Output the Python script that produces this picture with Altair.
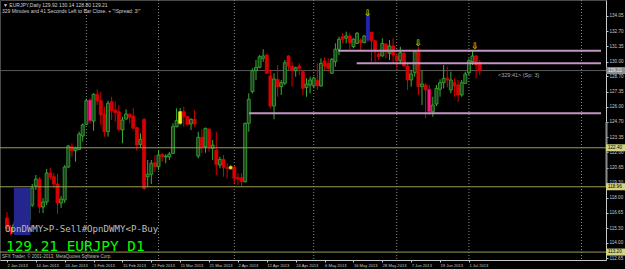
import altair as alt
import pandas as pd

# ---------------- data ----------------
opens = [116.20, 115.32, 115.00, 115.60, 115.00, 115.50, 116.00, 117.35, 119.03, 119.64,
         117.17, 117.61, 120.17, 119.85, 119.20, 117.53, 117.79, 120.70, 122.49, 122.14,
         122.26, 123.44, 124.47, 126.61, 124.76, 127.12, 126.55, 125.38, 123.82, 126.46,
         125.73, 125.58, 123.97, 124.93, 125.35, 125.20, 124.17, 122.70, 124.91, 119.85,
         120.06, 121.08, 120.73, 121.82, 121.59, 121.59, 121.91, 124.26, 124.56, 125.58,
         125.14, 124.50, 124.91, 121.67, 123.32, 122.49, 124.05, 122.35, 122.20, 120.88,
         121.38, 120.64, 120.73, 120.68, 119.76, 119.76, 119.41, 124.56, 127.35, 129.20,
         129.50, 130.29, 130.58, 128.73, 126.08, 128.44, 127.79, 128.09, 130.50, 129.61,
         129.20, 129.61, 129.11, 127.73, 127.94, 127.85, 128.32, 127.85, 130.05, 129.85,
         128.97, 129.99, 131.09, 132.20, 132.06, 132.26, 131.32, 131.61, 131.91, 131.67,
         131.91, 132.59, 131.84, 130.67, 130.50, 131.55, 130.73, 131.38, 130.50, 130.08,
         130.73, 129.61, 128.38, 129.02, 131.02, 127.79, 127.94, 127.56, 125.58, 126.26,
         127.56, 128.14, 128.53, 127.50, 128.14, 127.94, 127.06, 128.09, 129.02, 130.00,
         130.50, 129.92]
highs = [116.73, 115.60, 115.90, 116.00, 115.80, 116.30, 117.60, 119.20, 120.00, 119.82,
         117.97, 120.53, 120.62, 120.15, 120.09, 118.14, 120.88, 122.64, 122.79, 122.49,
         123.82, 124.56, 126.76, 126.76, 127.20, 127.56, 127.35, 126.02, 126.55, 126.90,
         126.46, 126.17, 125.14, 125.79, 125.44, 125.88, 124.26, 123.68, 125.00, 121.32,
         121.32, 121.76, 122.20, 121.91, 121.82, 122.03, 124.56, 125.88, 125.91, 126.02,
         125.20, 125.00, 125.73, 123.82, 124.03, 124.17, 124.12, 123.08, 123.82, 121.61,
         121.76, 121.03, 120.88, 120.79, 120.15, 120.15, 124.61, 127.20, 129.41, 130.14,
         130.58, 131.09, 130.67, 129.26, 128.97, 129.70, 128.38, 130.14, 130.58, 129.99,
         129.55, 129.85, 129.26, 128.53, 128.67, 128.67, 129.85, 130.29, 130.38, 130.29,
         130.32, 131.61, 132.20, 132.50, 132.64, 132.50, 132.06, 132.61, 132.06, 132.35,
         134.29, 132.64, 131.91, 131.02, 132.06, 131.61, 131.91, 132.06, 130.73, 131.32,
         130.87, 129.85, 129.26, 131.02, 131.32, 129.26, 128.09, 127.94, 126.90, 127.94,
         128.44, 129.70, 129.55, 129.11, 128.53, 128.38, 128.38, 129.11, 130.29, 131.02,
         130.58, 130.14]
lows = [115.06, 114.70, 114.90, 114.85, 114.90, 115.20, 115.80, 117.17, 118.67, 116.64,
        116.64, 117.35, 119.56, 118.82, 116.56, 117.09, 117.53, 120.62, 121.61, 121.17,
        122.20, 122.94, 124.41, 124.56, 123.90, 126.17, 124.41, 123.38, 123.38, 124.85,
        124.70, 123.82, 122.79, 124.88, 124.56, 124.08, 122.14, 122.44, 118.67, 118.91,
        119.20, 120.29, 120.44, 121.17, 121.03, 121.32, 121.85, 124.20, 124.41, 124.26,
        124.41, 123.97, 124.26, 121.47, 121.91, 121.96, 122.05, 121.32, 120.00, 120.59,
        119.85, 119.70, 120.44, 119.26, 119.12, 119.03, 119.32, 123.82, 127.20, 128.38,
        129.41, 129.99, 128.90, 125.88, 124.91, 126.90, 127.06, 127.94, 129.26, 127.79,
        128.67, 128.82, 127.06, 126.90, 127.20, 127.64, 127.50, 127.79, 129.26, 129.11,
        128.91, 129.55, 130.58, 131.61, 131.61, 131.09, 131.17, 131.55, 131.02, 131.61,
        131.73, 129.99, 129.99, 130.14, 130.43, 130.29, 130.14, 129.85, 129.41, 129.85,
        129.55, 127.50, 127.79, 128.67, 127.06, 126.17, 125.00, 125.29, 125.14, 126.08,
        126.90, 127.64, 127.73, 127.20, 126.90, 126.46, 126.90, 128.05, 128.82, 129.70,
        128.53, 128.80]
closes = [115.32, 115.00, 115.60, 115.00, 115.50, 116.00, 117.35, 118.85, 119.64, 117.17,
          117.61, 120.17, 119.82, 119.20, 117.53, 117.88, 120.70, 122.56, 122.14, 122.35,
          123.61, 124.41, 126.55, 124.79, 127.12, 126.55, 125.29, 123.82, 126.32, 125.67,
          125.49, 124.03, 124.85, 125.38, 125.09, 124.12, 122.64, 123.15, 118.82, 120.06,
          121.03, 120.73, 121.76, 121.61, 121.67, 121.85, 124.26, 124.79, 125.58, 125.14,
          124.47, 124.91, 124.50, 123.32, 122.49, 124.12, 122.49, 122.64, 120.94, 121.38,
          120.68, 120.59, 120.56, 119.70, 119.64, 119.41, 124.56, 126.68, 129.20, 129.50,
          130.43, 130.50, 128.97, 126.08, 128.47, 127.79, 128.14, 129.90, 129.61, 129.26,
          129.46, 129.41, 127.64, 128.03, 128.38, 128.55, 127.88, 129.85, 129.61, 129.41,
          130.20, 131.09, 131.97, 131.97, 132.26, 131.67, 131.97, 132.50, 131.67, 132.26,
          134.11, 131.84, 130.87, 130.43, 131.61, 130.87, 131.38, 130.58, 130.08, 130.79,
          129.61, 128.38, 128.91, 130.87, 127.79, 128.03, 127.50, 125.58, 126.17, 127.64,
          128.14, 128.53, 128.38, 128.38, 127.85, 127.06, 128.14, 128.91, 130.08, 130.50,
          129.70, 129.21]

pink_bars = [23, 117]
yellow_bars = [48, 62]
blue_bars = [100]

tick_bars = [0, 8, 16, 24, 32, 40, 48, 56, 64, 72, 80, 88, 96, 104, 112, 120, 128]
tick_labels = ["2 Jan 2013", "14 Jan 2013", "24 Jan 2013", "5 Feb 2013", "15 Feb 2013",
               "27 Feb 2013", "11 Mar 2013", "21 Mar 2013", "2 Apr 2013", "12 Apr 2013",
               "24 Apr 2013", "6 May 2013", "16 May 2013", "28 May 2013", "7 Jun 2013",
               "19 Jun 2013", "1 Jul 2013"]
price_ticks = [134.05, 132.70, 131.35, 130.00, 128.70, 127.35, 126.00, 124.70, 123.35,
               122.00, 120.65, 119.30, 118.00, 116.65, 115.30, 114.00, 112.65]

separator_bars = [22, 42, 63, 85, 108, 128, 159.2]
purple_levels = [130.96, 129.85, 125.44]
purple_from = [91.8, 96.9, 67.1]
olive_levels = [122.40, 118.96, 113.20]
olive_labels = ["122.40", "118.96", "113.20"]
bid_price = 129.21
bid_label = "129.21"
arrow_bars = [100, 114, 129.7]
arrow_prices = [134.25, 131.6, 131.4]
box_bars = [1.9, 6.5]
box_prices = [118.85, 114.70]
range_marker = [124.67, 119.03]

X_DOM = [-0.545, 164.6]
Y_DOM = [112.50, 135.435]

# ---------------- tables ----------------
kinds = []
for i, (o, c) in enumerate(zip(opens, closes)):
    if i in pink_bars:
        kinds.append("pink")
    elif i in yellow_bars:
        kinds.append("yellow")
    elif i in blue_bars:
        kinds.append("blue")
    else:
        kinds.append("bull" if c >= o else "bear")
candles = pd.DataFrame({"i": list(range(len(opens))), "o": opens, "h": highs,
                        "l": lows, "c": closes, "kind": kinds})

xs = alt.Scale(domain=X_DOM, nice=False, zero=False)
ys = alt.Scale(domain=Y_DOM, nice=False, zero=False)

kind_dom = ["bull", "bear", "pink", "yellow", "blue"]
fill_scale = alt.Scale(domain=kind_dom, range=["#1f421f", "#d80000", "#ff1a8c", "#e2f020", "#2323b4"])
stroke_scale = alt.Scale(domain=kind_dom, range=["#36b036", "#d80000", "#c00050", "#e2f020", "#2323b4"])
wick_scale = alt.Scale(domain=kind_dom, range=["#36b036", "#d80000", "#d80000", "#36b036", "#2323b4"])

label_expr = "[" + ",".join("'" + t + "'" for t in tick_labels) + "][round(datum.value/8)]"

y_axis = alt.Axis(orient="right", values=price_ticks, format=".2f", title=None,
                  labelFontSize=4.6, labelColor="#c8c8c8", labelFont="Liberation Sans",
                  tickColor="#c8c8c8", tickSize=2, domainColor="#c8c8c8",
                  labelPadding=1, labelOverlap=False, grid=False, labelFlush=False)
x_axis = alt.Axis(orient="bottom", values=tick_bars, labelExpr=label_expr, title=None,
                  labelFontSize=4.1, labelColor="#c8c8c8", labelFont="Liberation Sans",
                  labelAlign="left", tickColor="#c8c8c8", tickSize=2,
                  domainColor="#c8c8c8", labelPadding=1.5, labelOverlap=False,
                  grid=False, labelFlush=False)


def X(f):
    return alt.X(f, scale=xs, axis=x_axis)


def Y(f):
    return alt.Y(f, scale=ys, axis=y_axis)


base = alt.Chart(candles)

bid_line = alt.Chart(pd.DataFrame({"p": [bid_price]})).mark_rule(
    color="#5a5a5a", strokeWidth=1).encode(y=Y("p:Q"))

seps = alt.Chart(pd.DataFrame({"b": separator_bars})).mark_rule(
    color="#8a8a8a", strokeDash=[1, 2], strokeWidth=1).encode(
    x=X("b:Q"), y=alt.value(0), y2=alt.value(260))

wicks = base.mark_rule(strokeWidth=1).encode(
    x=X("i:Q"), y=Y("h:Q"), y2="l:Q",
    color=alt.Color("kind:N", scale=wick_scale, legend=None))

bodies = base.mark_bar(size=3, strokeWidth=0.8).encode(
    x=X("i:Q"), y=Y("o:Q"), y2="c:Q",
    fill=alt.Fill("kind:N", scale=fill_scale, legend=None),
    stroke=alt.Stroke("kind:N", scale=stroke_scale, legend=None))

purple = alt.Chart(pd.DataFrame({"p": purple_levels, "b0": purple_from,
                                 "b1": [X_DOM[1]] * 3})).mark_rule(
    color="#c295c2", strokeWidth=2).encode(
    x=X("b0:Q"), x2="b1:Q", y=Y("p:Q"))

olive = alt.Chart(pd.DataFrame({"p": olive_levels})).mark_rule(
    color="#9c9c52", strokeWidth=1).encode(y=Y("p:Q"))

blue_box = alt.Chart(pd.DataFrame({"b0": [box_bars[0]], "b1": [box_bars[1]],
                                   "p0": [box_prices[0]], "p1": [box_prices[1]]})).mark_rect(
    color="#25258f").encode(
    x=X("b0:Q"), x2="b1:Q", y=Y("p0:Q"), y2="p1:Q")

arrows = alt.Chart(pd.DataFrame({"b": arrow_bars, "p": arrow_prices,
                                 "t": ["⇩"] * 3})).mark_text(
    color="#d2c800", fontSize=9, font="DejaVu Sans", fontWeight="bold").encode(
    x=X("b:Q"), y=Y("p:Q"), text="t:N")

rng = alt.Chart(pd.DataFrame({"p0": [range_marker[0]], "p1": [range_marker[1]]})).mark_rule(
    color="#8c8c8c", strokeWidth=2).encode(
    x=alt.value(606.5), y=Y("p0:Q"), y2="p1:Q")

olive_df = pd.DataFrame({"p": olive_levels, "t": olive_labels})
bid_df = pd.DataFrame({"p": [bid_price], "t": [bid_label]})

olive_boxes = alt.Chart(olive_df).mark_rect(yOffset=-3.5, y2Offset=3.5, color="#d2d282").encode(
    x=alt.value(606), x2=alt.value(625), y=Y("p:Q"), y2="p:Q")
bid_box = alt.Chart(bid_df).mark_rect(yOffset=-3.5, y2Offset=3.5, color="#8c8c8c").encode(
    x=alt.value(606), x2=alt.value(625), y=Y("p:Q"), y2="p:Q")
olive_box_text = alt.Chart(olive_df).mark_text(
    align="left", baseline="middle", fontSize=4.6, font="Liberation Sans", color="#000000").encode(
    x=alt.value(608), y=Y("p:Q"), text="t:N")
bid_box_text = alt.Chart(bid_df).mark_text(
    align="left", baseline="middle", fontSize=4.6, font="Liberation Sans", color="#f0f0f0").encode(
    x=alt.value(608), y=Y("p:Q"), text="t:N")


def txt(s, x, y, size, color, font="Liberation Sans"):
    return alt.Chart(pd.DataFrame({"t": [s]})).mark_text(
        align="left", baseline="middle", fontSize=size, color=color, font=font).encode(
        x=alt.value(x), y=alt.value(y), text="t:N")


texts = [
    txt("▼ EURJPY,Daily  129.92 130.14 128.80 129.21", 3, 4.5, 5, "#d0d0d0"),
    txt('329 Minutes and 41 Seconds Left to Bar Close. + "!Spread: 3!"', 2, 11, 5, "#d0d0d0"),
    txt("<329:41> (Sp: 3)", 498, 75, 5.5, "#a8a8a8"),
    txt("OpnDWMY>P-Sell#OpnDWMY<P-Buy", 5, 229, 9.1, "#bdbdbd", font="DejaVu Sans Mono"),
    txt("129.21 EURJPY D1", 6, 246.5, 14.4, "#00ff00", font="DejaVu Sans Mono"),
    txt("SFX Trader, © 2001-2013, MetaQuotes Software Corp.", 2, 257, 4.5, "#bdbdbd"),
]

chart = alt.layer(bid_line, seps, wicks, bodies, purple, olive, blue_box, arrows, rng,
                  olive_boxes, bid_box, olive_box_text, bid_box_text, *texts).properties(
    width=606, height=260,
    padding={"left": 0, "top": 0, "right": 19, "bottom": 9},
    autosize=alt.AutoSizeParams(type="none"),
    background="#000000",
).configure_view(stroke="#4a4a4a", strokeWidth=1).configure_axis(labelOverlap=False)

chart.save("out.html", embed_options={"renderer": "svg", "actions": False})
